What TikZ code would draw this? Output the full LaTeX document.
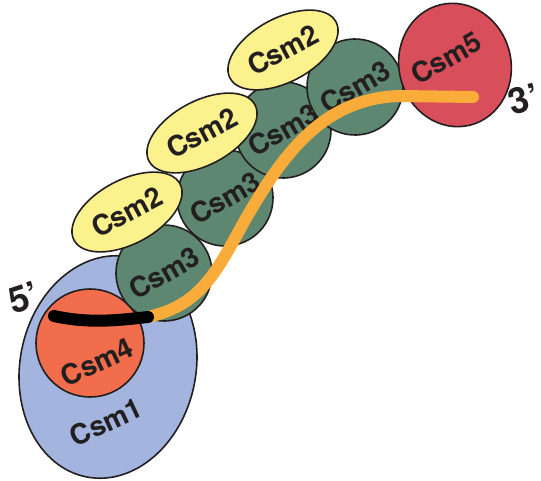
\documentclass[tikz,border=0pt]{standalone}
\usepackage{fontspec}
\setmainfont{TeX Gyre Heros}
\usetikzlibrary{shapes.geometric}

\definecolor{csmblue}{HTML}{A3B5DE}
\definecolor{csmtomato}{HTML}{F26D4B}
\definecolor{csmgreen}{HTML}{5D8770}
\definecolor{csmyellow}{HTML}{FBF18D}
\definecolor{csmred}{HTML}{D94E5B}
\definecolor{rnaorange}{HTML}{F9AC3A}
\definecolor{inkdark}{HTML}{231F20}

\tikzset{
  subunit/.style={draw=inkdark, line width=1.6pt, inner sep=0pt, text=inkdark,
                  font=\fontsize{28}{28}\selectfont\bfseries},
  csmone/.style={subunit, ellipse, fill=csmblue, minimum width=176pt, minimum height=224pt},
  csmtwo/.style={subunit, ellipse, fill=csmyellow, minimum width=120pt, minimum height=64pt},
  csmthree/.style={subunit, circle, fill=csmgreen, minimum size=96pt},
  csmfour/.style={subunit, circle, fill=csmtomato, minimum size=108pt},
  csmfive/.style={subunit, ellipse, fill=csmred, minimum width=112pt, minimum height=124pt},
  sublabel/.style={text=inkdark, inner sep=0pt, font=\fontsize{28}{28}\selectfont\bfseries},
  endlabel/.style={text=inkdark, inner sep=0pt, font=\fontsize{36}{36}\selectfont\bfseries},
  rna/.style={line width=12pt, line cap=round}
}

\begin{document}
\begin{tikzpicture}[x=1pt, y=-1pt]
  \useasboundingbox (0,0) rectangle (541,481);
  %
  % Csm1 with Csm4 sitting on it
  \node[csmone, rotate=-11] (csm1) at (108,367) {};
  \node[csmfour] (csm4) at (90,343) {};
  %
  % backbone of Csm3 subunits, lowest first
  \foreach \name/\x/\y in {a/164/273, b/225/198, c/283/130, d/355/87}
    \node[csmthree, rotate=30] (csm3\name) at (\x,\y) {Csm3};
  %
  % Csm2 subunits along the top
  \foreach \name/\x/\y in {a/127/212, b/202/133, c/283/50}
    \node[csmtwo, rotate=28] (csm2\name) at (\x,\y) {Csm2};
  %
  \node[csmfive, rotate=14] (csm5) at (455,65) {};
  %
  % crRNA: spacer (orange) and 5' handle (black)
  \coordinate (handle5) at (54,316);
  \coordinate (junction) at (148,317);
  \coordinate (spacer3) at (473,97);
  \draw[rna, rnaorange] (junction) .. controls (200,305) and (215,275) .. (245,220)
                                   .. controls (280,160) and (320,98) .. (400,96) -- (spacer3);
  \draw[rna, black] (handle5) .. controls (90,324) and (120,320) .. (junction);
  %
  % labels
  \node[sublabel, rotate=25] (csm1text) at (106,422) {Csm1};
  \node[sublabel, rotate=25] (csm4text) at (97,362) {Csm4};
  \node[sublabel, rotate=30] (csm5text) at (446,58) {Csm5};
  \node[endlabel, rotate=18] (fiveprime) at (24,298) {5’};
  \node[endlabel, rotate=15] (threeprime) at (524,99) {3’};
\end{tikzpicture}
\end{document}
